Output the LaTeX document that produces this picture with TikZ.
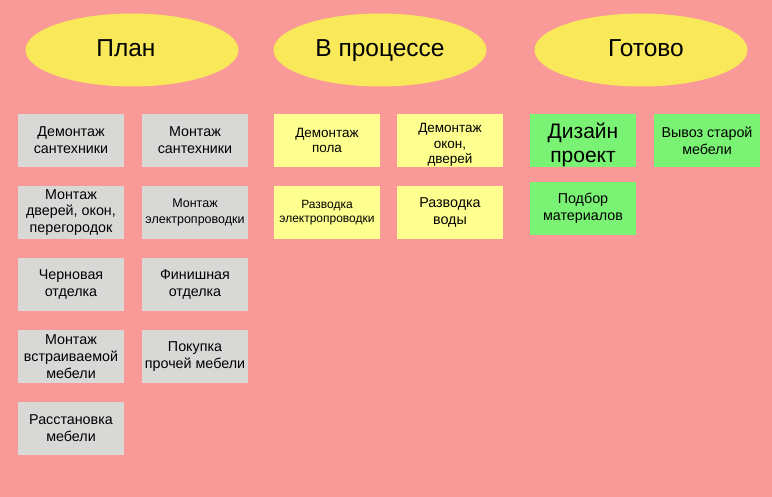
\documentclass[tikz,border=0pt]{standalone}
\usepackage{fontspec}
\setmainfont{Liberation Sans}
\usetikzlibrary{shapes.geometric}

\definecolor{fon}{HTML}{F99A98}
\definecolor{zhelt}{HTML}{F8E85A}
\definecolor{seryj}{HTML}{D8D9D6}
\definecolor{svetlozhelt}{HTML}{FFFF90}
\definecolor{zelen}{HTML}{7AF274}

\begin{document}
\begin{tikzpicture}[x=1pt, y=-1pt,
    zagolovok/.style={ellipse, fill=zhelt, minimum width=213pt, minimum height=73pt,
        inner sep=0pt, text height=17pt, text depth=4pt, font=\fontsize{24.5}{28}\selectfont},
    kartochka/.style={rectangle, minimum width=106pt, minimum height=53pt, inner sep=0pt,
        align=center, font=\fontsize{14.3}{16.8}\selectfont},
    plan/.style={kartochka, fill=seryj},
    process/.style={kartochka, fill=svetlozhelt},
    gotovo/.style={kartochka, fill=zelen},
    melko/.style={font=\fontsize{12.5}{15.5}\selectfont},
    sredne/.style={font=\fontsize{13.5}{15.5}\selectfont}]
        % фон
        \fill[fon] (0,0) rectangle (772,497);
        \useasboundingbox (0,0) rectangle (772,497);

        % колонки
        \node[zagolovok] (plan) at (132,50) {\hspace*{-12pt}План};
        \node[zagolovok] (process) at (380,50) {В процессе};
        \node[zagolovok] (gotovo) at (641,50) {\hspace*{10pt}Готово};

        % план
        \node[plan] (demSant) at (71,140.5) {Демонтаж\\сантехники};
        \node[plan] (montSant) at (195,140.5) {Монтаж\\сантехники};
        \node[plan] (montDverej) at (71,212.5) {Монтаж\\дверей, окон,\\перегородок};
        \node[plan, melko] (montElektr) at (195,212.5) {Монтаж\\электропроводки};
        \node[plan] (chernOtd) at (71,284.5) {Черновая\\отделка};
        \node[plan] (finOtd) at (195,284.5) {Финишная\\отделка};
        \node[plan] (montMebeli) at (71,356.5) {Монтаж\\встраиваемой\\мебели};
        \node[plan] (pokupka) at (195,356.5) {Покупка\\прочей мебели};
        \node[plan] (rasstanovka) at (71,428.5) {Расстановка\\мебели};

        % в процессе
        \node[process, sredne] (demPola) at (327,140.5) {Демонтаж\\пола};
        \node[process, sredne] (demOkon) at (450,140.5) {\rule{0pt}{18pt}Демонтаж\\окон,\\дверей};
        \node[process, font=\fontsize{12}{14.5}\selectfont] (razvElektr) at (327,212.5) {Разводка\\электропроводки};
        \node[process] (razvVody) at (450,212.5) {Разводка\\воды};

        % готово
        \node[gotovo, font=\fontsize{21}{24}\selectfont] (dizajn) at (583,140.5) {\rule{0pt}{25pt}Дизайн\\проект};
        \node[gotovo] (vyvoz) at (707,140.5) {Вывоз старой\\мебели};
        \node[gotovo] (podbor) at (583,208.5) {Подбор\\материалов};
\end{tikzpicture}
\end{document}
